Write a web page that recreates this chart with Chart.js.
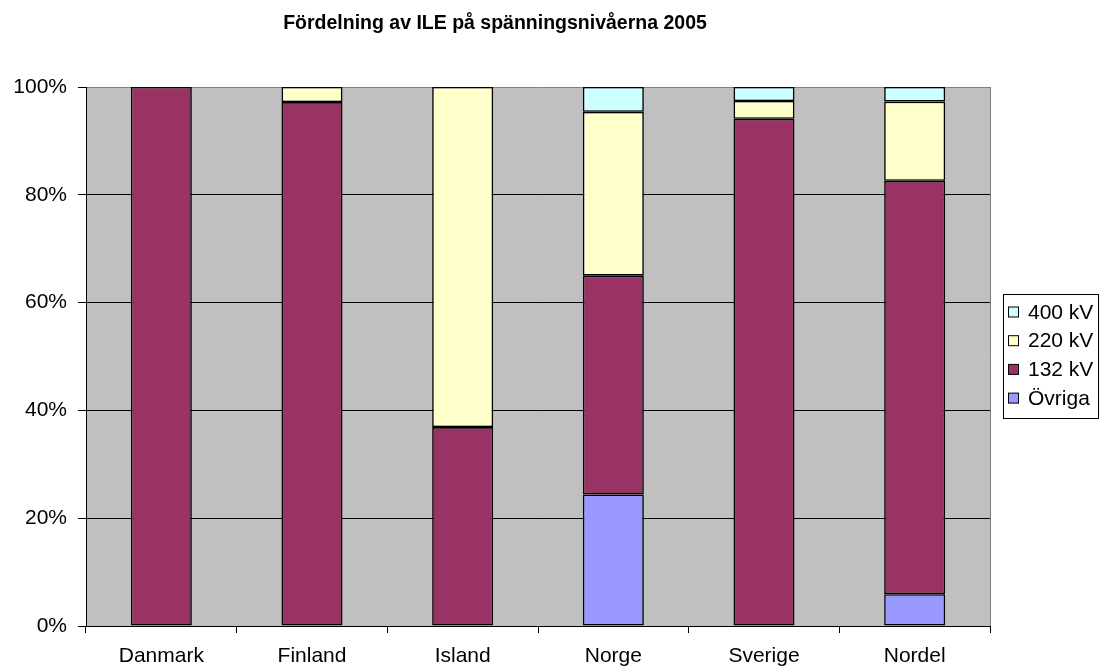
<!DOCTYPE html>
<html>
<head>
<meta charset="utf-8">
<title>Fördelning av ILE</title>
<script src="https://cdn.jsdelivr.net/npm/chart.js@4/dist/chart.umd.min.js"></script>
<style>
  html, body { margin: 0; padding: 0; background: #fff; }
  #wrap { width: 1110px; height: 671px; }
</style>
</head>
<body>
<div id="wrap"><canvas id="chart"></canvas></div>
<script>
// Data (percent of ILE per voltage level)
const categories = ['Danmark', 'Finland', 'Island', 'Norge', 'Sverige', 'Nordel'];
const ovriga = [0, 0, 0, 24.4, 0, 5.9];
const kv132 = [100, 97.2, 36.9, 40.6, 94.1, 76.7];
const kv220 = [0, 2.8, 63.1, 30.4, 3.3, 14.7];
const kv400 = [0, 0, 0, 4.6, 2.6, 2.7];
const yTicks = [0, 20, 40, 60, 80, 100];

const FONT = 'Liberation Sans, Arial, sans-serif';

// Grey plot area + right border
const plotBackground = {
    id: 'plotBackground',
    beforeDraw(chart) {
        const { ctx, chartArea: a } = chart;
        ctx.save();
        ctx.fillStyle = '#C0C0C0';
        ctx.fillRect(a.left, a.top, a.right - a.left, a.bottom - a.top);
        ctx.strokeStyle = '#808080';
        ctx.lineWidth = 1;
        ctx.beginPath();
        ctx.moveTo(Math.round(a.right) + 0.5, a.top);
        ctx.lineTo(Math.round(a.right) + 0.5, a.bottom);
        ctx.stroke();
        ctx.restore();
    }
};

// Boxed legend on the right, top series first
const boxLegend = {
    id: 'boxLegend',
    afterDraw(chart) {
        const { ctx } = chart;
        const x = 1003, y = 294, w = 95, h = 124, rowH = 28.7;
        ctx.save();
        ctx.fillStyle = '#fff';
        ctx.fillRect(x, y, w, h);
        ctx.strokeStyle = '#000';
        ctx.lineWidth = 1;
        ctx.strokeRect(x + 0.5, y + 0.5, w, h);
        ctx.font = '21px ' + FONT;
        ctx.textBaseline = 'middle';
        const sets = chart.data.datasets.slice().reverse();
        sets.forEach((ds, i) => {
            const cy = 312 + i * rowH;
            ctx.fillStyle = ds.backgroundColor;
            ctx.fillRect(1008.5, cy - 5, 10, 10);
            ctx.strokeStyle = '#000';
            ctx.strokeRect(1008.5, cy - 5, 10, 10);
            ctx.fillStyle = '#000';
            ctx.fillText(ds.label, 1028, cy + 1);
        });
        ctx.restore();
    }
};

const ctx = document.getElementById('chart').getContext('2d');
new Chart(ctx, {
    type: 'bar',
    data: {
        labels: categories,
        datasets: [
            { label: 'Övriga', data: ovriga, backgroundColor: '#9999FF' },
            { label: '132 kV', data: kv132, backgroundColor: '#993366' },
            { label: '220 kV', data: kv220, backgroundColor: '#FFFFCC' },
            { label: '400 kV', data: kv400, backgroundColor: '#CCFFFF' }
        ].map(ds => Object.assign(ds, {
            borderColor: '#000',
            borderWidth: c => (c.raw ? 1.6 : 0),
            borderSkipped: false,
            barPercentage: 0.405,
            categoryPercentage: 1
        }))
    },
    options: {
        responsive: true,
        maintainAspectRatio: false,
        animation: false,
        devicePixelRatio: 1,
        layout: { padding: { left: 0, right: 120, top: 0, bottom: 0 } },
        plugins: {
            legend: { display: false },
            tooltip: { enabled: false },
            title: {
                display: true,
                text: 'Fördelning av ILE på spänningsnivåerna 2005',
                color: '#000',
                font: { family: FONT, size: 19.5, weight: 'bold' },
                padding: { top: 12, bottom: 51.6 }
            }
        },
        scales: {
            x: {
                stacked: true,
                afterFit(scale) { scale.height = 45; },
                grid: {
                    offset: true,
                    drawOnChartArea: false,
                    drawTicks: true,
                    tickLength: 7,
                    color: '#000'
                },
                border: { color: '#000', width: 1 },
                ticks: {
                    color: '#000',
                    font: { family: FONT, size: 21 },
                    padding: 11,
                    maxRotation: 0
                }
            },
            y: {
                stacked: true,
                min: 0,
                max: 100,
                afterFit(scale) { scale.width = 86; },
                afterBuildTicks(scale) {
                    scale.ticks = yTicks.map(v => ({ value: v }));
                },
                grid: {
                    color: c => (c.tick && c.tick.value === 100 ? '#808080' : '#000'),
                    tickColor: '#000',
                    tickLength: 8,
                    lineWidth: 1
                },
                border: { color: '#000', width: 1 },
                ticks: {
                    color: '#000',
                    font: { family: FONT, size: 21 },
                    padding: 11,
                    callback: v => v + '%'
                }
            }
        }
    },
    plugins: [plotBackground, boxLegend]
});
</script>
</body>
</html>
